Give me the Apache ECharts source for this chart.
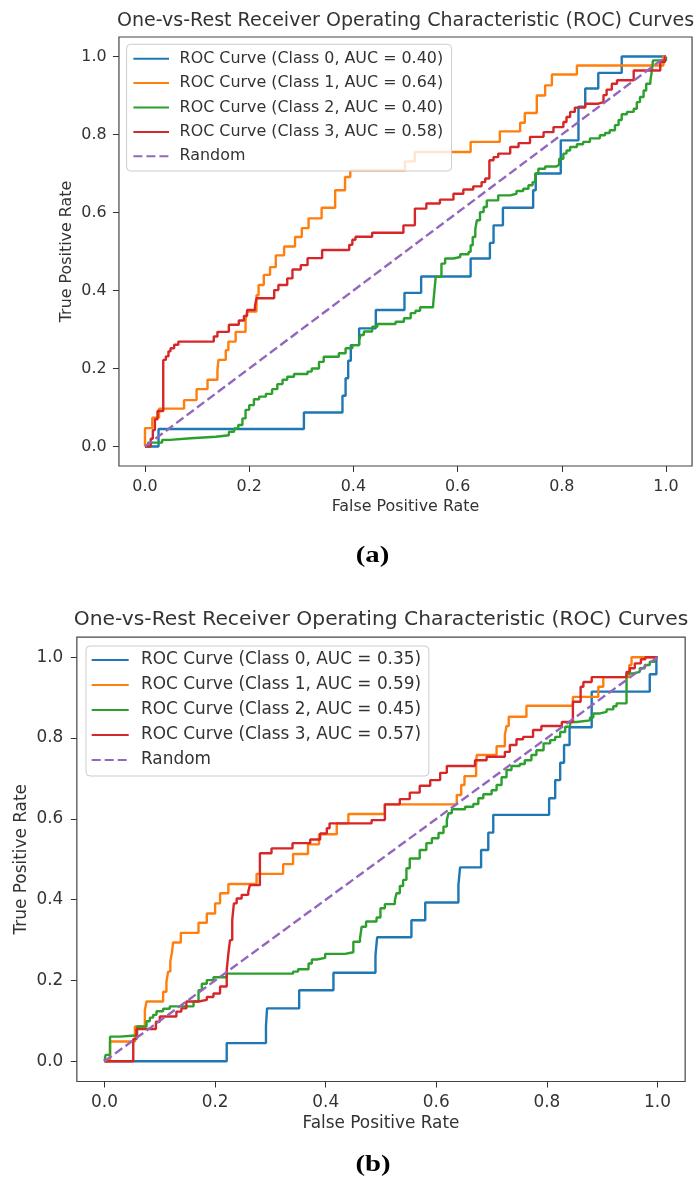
<!DOCTYPE html>
<html>
<head>
<meta charset="utf-8">
<script src="https://cdn.jsdelivr.net/npm/echarts@6/dist/echarts.min.js"></script>
<style>
html,body{margin:0;padding:0;background:#fff;}
#chart{width:697px;height:1177px;}
</style>
</head>
<body>
<div id="chart"></div>
<script>
// ---------- tick labels ----------
const xTicks = [0.0, 0.2, 0.4, 0.6, 0.8, 1.0];
const yTicks = [0.0, 0.2, 0.4, 0.6, 0.8, 1.0];

// ---------- texts ----------
const titleText = 'One-vs-Rest Receiver Operating Characteristic (ROC) Curves';
const xName = 'False Positive Rate';
const yName = 'True Positive Rate';
const namesA = ['ROC Curve (Class 0, AUC = 0.40)', 'ROC Curve (Class 1, AUC = 0.64)', 'ROC Curve (Class 2, AUC = 0.40)', 'ROC Curve (Class 3, AUC = 0.58)', 'Random'];
const namesB = ['ROC Curve (Class 0, AUC = 0.35)', 'ROC Curve (Class 1, AUC = 0.59)', 'ROC Curve (Class 2, AUC = 0.45)', 'ROC Curve (Class 3, AUC = 0.57)', 'Random'];

// ---------- panel (a) data: [FPR, TPR] ----------
const rocA0 = [[0,0],[0.026,0],[0.026,0.045],[0.305,0.045],[0.305,0.087],[0.379,0.087],[0.379,0.13],[0.385,0.13],[0.385,0.175],[0.390,0.175],[0.390,0.22],[0.395,0.22],[0.395,0.26],[0.411,0.26],[0.411,0.303],[0.443,0.303],[0.443,0.350],[0.498,0.350],[0.498,0.394],[0.530,0.394],[0.530,0.436],[0.625,0.436],[0.625,0.482],[0.662,0.482],[0.662,0.522],[0.669,0.522],[0.669,0.567],[0.687,0.567],[0.687,0.612],[0.745,0.612],[0.745,0.657],[0.750,0.657],[0.750,0.700],[0.798,0.700],[0.798,0.785],[0.832,0.785],[0.832,0.871],[0.845,0.871],[0.845,0.918],[0.870,0.918],[0.870,0.958],[0.915,0.958],[0.915,1.0],[1,1]];
const rocA1 = [[0,0],[0,0.047],[0.014,0.047],[0.014,0.074],[0.027,0.074],[0.027,0.097],[0.075,0.097],[0.075,0.119],[0.099,0.119],[0.099,0.147],[0.120,0.147],[0.120,0.171],[0.139,0.171],[0.139,0.196],[0.141,0.222],[0.155,0.222],[0.155,0.247],[0.160,0.269],[0.174,0.269],[0.174,0.294],[0.193,0.294],[0.193,0.324],[0.196,0.346],[0.214,0.346],[0.214,0.388],[0.218,0.414],[0.228,0.414],[0.228,0.440],[0.240,0.440],[0.240,0.460],[0.251,0.460],[0.251,0.490],[0.267,0.490],[0.267,0.513],[0.288,0.513],[0.288,0.537],[0.301,0.537],[0.301,0.560],[0.314,0.560],[0.314,0.585],[0.339,0.585],[0.339,0.612],[0.365,0.612],[0.365,0.657],[0.384,0.657],[0.384,0.691],[0.394,0.691],[0.394,0.708],[0.499,0.708],[0.499,0.731],[0.518,0.731],[0.518,0.755],[0.625,0.755],[0.625,0.781],[0.681,0.781],[0.681,0.808],[0.720,0.808],[0.720,0.830],[0.729,0.830],[0.729,0.855],[0.752,0.855],[0.752,0.900],[0.768,0.900],[0.768,0.926],[0.781,0.926],[0.781,0.954],[0.829,0.954],[0.829,0.977],[0.995,0.977],[0.995,1.0],[1,1]];
const rocA2 = [[0,0],[0.006,0.010],[0.033,0.017],[0.048,0.021],[0.088,0.025],[0.136,0.029],[0.161,0.038],[0.171,0.046],[0.179,0.055],[0.187,0.072],[0.193,0.094],[0.200,0.106],[0.209,0.121],[0.219,0.128],[0.232,0.135],[0.244,0.147],[0.254,0.160],[0.264,0.171],[0.273,0.179],[0.286,0.186],[0.312,0.192],[0.320,0.200],[0.334,0.217],[0.343,0.230],[0.372,0.239],[0.385,0.252],[0.398,0.260],[0.411,0.273],[0.414,0.286],[0.420,0.295],[0.436,0.307],[0.446,0.314],[0.481,0.320],[0.497,0.329],[0.510,0.342],[0.519,0.348],[0.528,0.357],[0.553,0.363],[0.555,0.392],[0.558,0.435],[0.569,0.469],[0.576,0.482],[0.592,0.486],[0.605,0.493],[0.621,0.499],[0.625,0.516],[0.629,0.537],[0.634,0.558],[0.637,0.580],[0.643,0.601],[0.650,0.614],[0.656,0.631],[0.678,0.644],[0.701,0.648],[0.713,0.655],[0.726,0.661],[0.736,0.670],[0.744,0.678],[0.749,0.700],[0.755,0.712],[0.768,0.718],[0.790,0.723],[0.795,0.738],[0.803,0.751],[0.809,0.759],[0.816,0.768],[0.829,0.775],[0.841,0.781],[0.854,0.790],[0.873,0.798],[0.883,0.804],[0.892,0.811],[0.902,0.824],[0.909,0.837],[0.915,0.852],[0.925,0.858],[0.938,0.866],[0.944,0.883],[0.950,0.896],[0.957,0.913],[0.962,0.930],[0.970,0.938],[0.973,0.964],[0.975,0.990],[0.995,0.990],[1,1]];
const rocA3 = [[0,0],[0.011,0],[0.011,0.02],[0.015,0.042],[0.019,0.070],[0.024,0.091],[0.035,0.091],[0.035,0.222],[0.040,0.231],[0.045,0.244],[0.049,0.252],[0.056,0.261],[0.064,0.269],[0.132,0.269],[0.132,0.282],[0.139,0.294],[0.161,0.312],[0.180,0.323],[0.190,0.335],[0.196,0.350],[0.211,0.360],[0.214,0.380],[0.248,0.401],[0.256,0.414],[0.273,0.431],[0.283,0.454],[0.299,0.465],[0.312,0.483],[0.340,0.504],[0.392,0.517],[0.398,0.530],[0.404,0.538],[0.436,0.548],[0.496,0.567],[0.518,0.610],[0.540,0.623],[0.566,0.633],[0.592,0.648],[0.611,0.659],[0.630,0.667],[0.646,0.678],[0.653,0.687],[0.661,0.734],[0.669,0.742],[0.678,0.751],[0.701,0.768],[0.717,0.778],[0.739,0.794],[0.765,0.806],[0.784,0.819],[0.803,0.832],[0.809,0.845],[0.816,0.858],[0.825,0.869],[0.845,0.879],[0.870,0.883],[0.880,0.901],[0.886,0.915],[0.896,0.930],[0.906,0.939],[0.938,0.964],[0.989,0.986],[0.998,1.0],[1,1]];

// ---------- panel (b) data: [FPR, TPR] ----------
const rocB0 = [[0,0],[0.221,0],[0.221,0.045],[0.292,0.045],[0.292,0.088],[0.294,0.131],[0.352,0.131],[0.352,0.176],[0.414,0.176],[0.414,0.219],[0.490,0.219],[0.490,0.262],[0.493,0.307],[0.555,0.307],[0.555,0.349],[0.580,0.349],[0.580,0.393],[0.640,0.393],[0.640,0.436],[0.643,0.480],[0.681,0.480],[0.681,0.523],[0.694,0.523],[0.694,0.566],[0.703,0.566],[0.703,0.610],[0.804,0.610],[0.804,0.651],[0.815,0.651],[0.815,0.696],[0.824,0.696],[0.824,0.739],[0.831,0.739],[0.831,0.783],[0.841,0.783],[0.841,0.827],[0.881,0.827],[0.881,0.915],[0.986,0.915],[0.986,0.958],[0.998,0.958],[0.998,1.0],[1,1]];
const rocB1 = [[0,0],[0.010,0],[0.010,0.049],[0.055,0.049],[0.055,0.086],[0.073,0.086],[0.073,0.127],[0.076,0.148],[0.106,0.148],[0.106,0.172],[0.112,0.197],[0.115,0.222],[0.119,0.247],[0.122,0.270],[0.124,0.294],[0.138,0.294],[0.138,0.318],[0.170,0.318],[0.170,0.343],[0.185,0.343],[0.185,0.366],[0.200,0.366],[0.200,0.391],[0.209,0.391],[0.209,0.416],[0.224,0.416],[0.224,0.439],[0.275,0.439],[0.275,0.464],[0.323,0.464],[0.323,0.488],[0.341,0.488],[0.341,0.513],[0.368,0.513],[0.368,0.537],[0.388,0.537],[0.388,0.562],[0.420,0.562],[0.420,0.589],[0.441,0.589],[0.441,0.612],[0.507,0.612],[0.507,0.636],[0.637,0.636],[0.637,0.659],[0.645,0.659],[0.645,0.684],[0.651,0.684],[0.651,0.706],[0.672,0.706],[0.672,0.733],[0.673,0.758],[0.709,0.758],[0.709,0.780],[0.724,0.780],[0.724,0.808],[0.727,0.830],[0.731,0.853],[0.763,0.853],[0.763,0.880],[0.847,0.880],[0.847,0.902],[0.893,0.902],[0.893,0.927],[0.902,0.951],[0.949,0.951],[0.949,0.981],[0.953,1.0],[1,1]];
const rocB2 = [[0,0],[0.002,0.016],[0.010,0.016],[0.010,0.061],[0.028,0.061],[0.028,0.064],[0.055,0.064],[0.059,0.086],[0.076,0.086],[0.076,0.099],[0.082,0.108],[0.088,0.115],[0.094,0.124],[0.106,0.130],[0.118,0.136],[0.161,0.148],[0.170,0.176],[0.176,0.192],[0.185,0.201],[0.197,0.208],[0.221,0.217],[0.299,0.217],[0.341,0.222],[0.350,0.228],[0.369,0.242],[0.375,0.252],[0.384,0.256],[0.399,0.266],[0.435,0.270],[0.450,0.296],[0.462,0.304],[0.465,0.333],[0.473,0.346],[0.492,0.356],[0.499,0.379],[0.507,0.389],[0.525,0.398],[0.528,0.416],[0.534,0.434],[0.540,0.449],[0.546,0.478],[0.552,0.502],[0.570,0.523],[0.582,0.540],[0.592,0.552],[0.604,0.565],[0.613,0.581],[0.619,0.597],[0.622,0.614],[0.628,0.624],[0.652,0.630],[0.667,0.637],[0.676,0.651],[0.685,0.661],[0.700,0.671],[0.709,0.684],[0.718,0.703],[0.727,0.721],[0.736,0.731],[0.751,0.736],[0.760,0.745],[0.772,0.758],[0.781,0.770],[0.794,0.787],[0.806,0.795],[0.815,0.803],[0.824,0.815],[0.833,0.828],[0.842,0.840],[0.854,0.844],[0.878,0.851],[0.884,0.861],[0.896,0.865],[0.908,0.871],[0.920,0.879],[0.926,0.886],[0.944,0.890],[0.944,0.960],[0.956,0.964],[0.968,0.973],[0.977,0.981],[0.986,0.989],[0.995,1.0],[1,1]];
const rocB3 = [[0,0],[0.052,0],[0.052,0.055],[0.058,0.055],[0.058,0.080],[0.093,0.080],[0.093,0.098],[0.100,0.098],[0.100,0.111],[0.130,0.111],[0.130,0.123],[0.139,0.123],[0.139,0.131],[0.148,0.131],[0.148,0.148],[0.170,0.148],[0.170,0.152],[0.185,0.152],[0.185,0.159],[0.197,0.159],[0.197,0.168],[0.209,0.168],[0.209,0.185],[0.221,0.185],[0.221,0.226],[0.224,0.267],[0.227,0.300],[0.231,0.350],[0.234,0.391],[0.239,0.403],[0.248,0.412],[0.260,0.420],[0.263,0.436],[0.281,0.440],[0.281,0.515],[0.302,0.527],[0.340,0.540],[0.372,0.549],[0.390,0.564],[0.402,0.577],[0.407,0.589],[0.483,0.597],[0.507,0.636],[0.534,0.649],[0.552,0.665],[0.570,0.682],[0.589,0.696],[0.607,0.714],[0.619,0.731],[0.670,0.745],[0.691,0.754],[0.724,0.766],[0.733,0.783],[0.745,0.797],[0.757,0.803],[0.775,0.820],[0.790,0.830],[0.827,0.840],[0.847,0.890],[0.861,0.927],[0.866,0.939],[0.881,0.951],[0.944,0.964],[0.950,0.973],[0.959,0.985],[0.970,0.995],[0.978,1.0],[1,1]];

const randomLine = [[0,0],[1,1]];

// ---------- styling ----------
const colors = ['#1f77b4', '#ff7f0e', '#2ca02c', '#d62728', '#9467bd'];
const FONT = 'DejaVu Sans';
const TXT = '#333';
const LW = 2.4;

function makeAxes(gi, fs) {
  const common = {
    gridIndex: gi, type: 'value', min: -0.05, max: 1.05,
    axisLine: { show: false, onZero: false },
    splitLine: { show: false },
    axisTick: { show: true, inside: false, length: 6, lineStyle: { color: '#333', width: 1 } },
    axisLabel: { fontSize: fs, fontFamily: FONT, color: TXT, margin: 13, formatter: v => v.toFixed(1) }
  };
  const x = JSON.parse(JSON.stringify(common));
  x.gridIndex = gi;
  x.axisTick.customValues = xTicks;
  x.axisLabel = Object.assign({}, common.axisLabel, { customValues: xTicks });
  const y = JSON.parse(JSON.stringify(common));
  y.gridIndex = gi;
  y.axisTick.customValues = yTicks;
  y.axisLabel = Object.assign({}, common.axisLabel, { customValues: yTicks });
  return [x, y];
}

const [xA, yA] = makeAxes(0, 15.9);
const [xB, yB] = makeAxes(1, 16.9);
yA.axisLabel.margin = 12.4;
yB.axisLabel.margin = 13.5;

function rocSeries(name, data, color, gi) {
  return {
    type: 'line', name: name, data: data, xAxisIndex: gi, yAxisIndex: gi,
    step: 'end', symbol: 'none', showSymbol: false, animation: false,
    lineStyle: { color: color, width: LW }, itemStyle: { color: color },
    emphasis: { disabled: true }
  };
}
function randSeries(gi) {
  return {
    type: 'line', name: 'Random', data: randomLine, xAxisIndex: gi, yAxisIndex: gi,
    symbol: 'none', showSymbol: false, animation: false,
    lineStyle: { color: colors[4], width: LW, type: [9, 4] }, itemStyle: { color: colors[4] },
    emphasis: { disabled: true }
  };
}

const seriesA = [rocA0, rocA1, rocA2, rocA3];
const seriesB = [rocB0, rocB1, rocB2, rocB3];

const series = [];
seriesA.forEach((d, i) => series.push(rocSeries(namesA[i], d, colors[i], 0)));
series.push(randSeries(0));
seriesB.forEach((d, i) => series.push(rocSeries(namesB[i], d, colors[i], 1)));
series.push(randSeries(1));

function txt(text, x, y, size, opts) {
  opts = opts || {};
  return {
    type: 'text', x: x, y: y, rotation: opts.rotation || 0, scaleX: opts.scaleX || 1,
    style: {
      text: text, align: 'center', verticalAlign: 'middle',
      fontSize: size, fontFamily: opts.family || FONT, fontWeight: opts.weight || 'normal',
      fill: opts.fill || TXT
    }
  };
}

const hiddenSymbol = { opacity: 0, borderWidth: 0 };

const option = {
  backgroundColor: '#fff',
  animation: false,
  grid: [
    { left: 118.95, top: 37, width: 573.1, height: 429, show: true, borderColor: '#444', borderWidth: 1.2, backgroundColor: 'transparent', containLabel: false, outerBoundsMode: 'none' },
    { left: 76.85, top: 637.1, width: 608.3, height: 444.4, show: true, borderColor: '#444', borderWidth: 1.2, backgroundColor: 'transparent', containLabel: false, outerBoundsMode: 'none' }
  ],
  xAxis: [xA, xB],
  yAxis: [yA, yB],
  legend: [
    {
      data: namesA, orient: 'vertical', left: 126.6, top: 44.3,
      padding: [4.7, 8.5, 5, 5.8], itemWidth: 35.6, itemHeight: 14, itemGap: 5,
      itemStyle: hiddenSymbol,
      backgroundColor: 'rgba(255,255,255,0.8)', borderColor: '#ccc', borderWidth: 1, borderRadius: 4,
      textStyle: { fontSize: 15.9, fontFamily: FONT, color: TXT, lineHeight: 19.4, padding: [0, 0, 0, 5.6] },
      selectedMode: false
    },
    {
      data: namesB, orient: 'vertical', left: 86, top: 646,
      padding: [4, 7.8, 6, 4.7], itemWidth: 37, itemHeight: 14, itemGap: 5,
      itemStyle: hiddenSymbol,
      backgroundColor: 'rgba(255,255,255,0.8)', borderColor: '#ccc', borderWidth: 1, borderRadius: 4,
      textStyle: { fontSize: 16.9, fontFamily: FONT, color: TXT, lineHeight: 20, padding: [0, 0, 0, 7.3] },
      selectedMode: false
    }
  ],
  graphic: [
    txt(titleText, 405.5, 21.2, 19.05),
    txt(xName, 405.5, 507.2, 15.9),
    txt(yName, 66.7, 251.5, 15.9, { rotation: Math.PI / 2 }),
    txt('(a)', 372.5, 556, 23, { family: 'Liberation Serif', weight: 'bold', scaleX: 1.25, fill: '#000' }),
    txt(titleText, 381, 620.2, 20.27),
    txt(xName, 381, 1123.3, 16.9),
    txt(yName, 21.2, 859.3, 16.9, { rotation: Math.PI / 2 }),
    txt('(b)', 373, 1165, 23, { family: 'Liberation Serif', weight: 'bold', scaleX: 1.25, fill: '#000' })
  ],
  series: series
};

const chart = echarts.init(document.getElementById('chart'), null, { renderer: 'canvas', width: 697, height: 1177 });
chart.setOption(option);
</script>
</body>
</html>
